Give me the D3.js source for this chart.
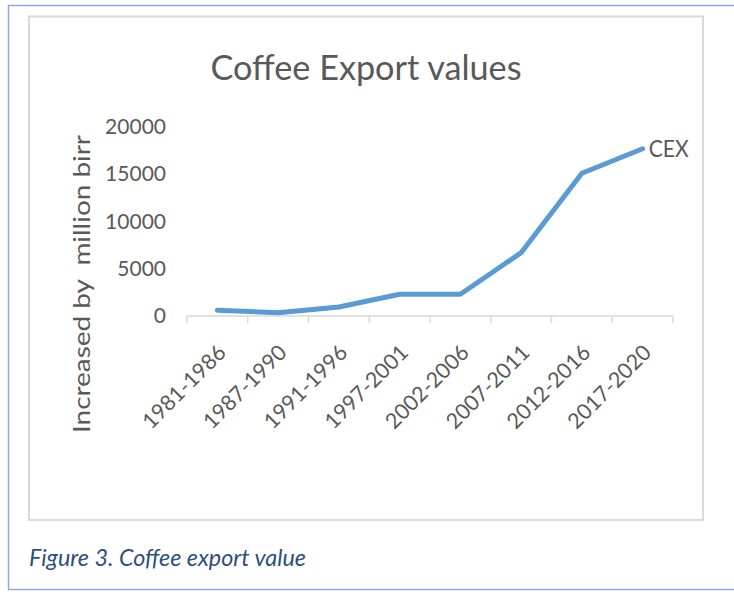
<!DOCTYPE html>
<html>
<head>
<meta charset="utf-8">
<script src="https://cdn.jsdelivr.net/npm/d3@7/dist/d3.min.js"></script>
<style>
  html, body { margin: 0; padding: 0; background: #fff; }
  svg { display: block; }
</style>
</head>
<body>
<svg id="chart" width="734" height="592"></svg>
<script>
// Coffee export value by period (million birr)
const periods = ["1981-1986", "1987-1990", "1991-1996", "1997-2001",
                 "2002-2006", "2007-2011", "2012-2016", "2017-2020"];
const exportValues = [600, 350, 950, 2300, 2300, 6700, 15100, 17700];
const yTicks = [0, 5000, 10000, 15000, 20000];
const seriesName = "CEX";

const svg = d3.select("#chart");
const font = "Lato, 'Open Sans', sans-serif";
const textGray = "#595959";

// outer page frame (top, left, bottom rules)
svg.append("path")
  .attr("d", "M734,5.5 H8.5 V589.5 H734")
  .attr("fill", "none")
  .attr("stroke", "#8eaadb")
  .attr("stroke-width", 1.5);

// chart area border
svg.append("rect")
  .attr("x", 29).attr("y", 16.5)
  .attr("width", 674).attr("height", 503.5)
  .attr("fill", "#fff")
  .attr("stroke", "#d9d9d9")
  .attr("stroke-width", 2);

// title
svg.append("text")
  .attr("x", 366).attr("y", 80)
  .attr("text-anchor", "middle")
  .attr("font-family", font)
  .attr("font-size", 34)
  .attr("fill", textGray)
  .attr("textLength", 311)
  .attr("lengthAdjust", "spacingAndGlyphs")
  .text("Coffee Export values");

// scales
const x = d3.scaleBand().domain(periods).range([187, 673]);
const y = d3.scaleLinear().domain([0, 20000]).range([316, 127]);
const cx = d => x(d) + x.bandwidth() / 2;

// y tick labels (no axis line, no gridlines)
const yAxis = d3.axisLeft(y).tickValues(yTicks).tickSize(0).tickPadding(0)
  .tickFormat(d3.format("d"));
const gy = svg.append("g").attr("transform", "translate(166,0)").call(yAxis);
gy.select(".domain").remove();
gy.selectAll("text")
  .attr("font-family", font)
  .attr("font-size", 21)
  .attr("fill", textGray);

// x axis line with boundary ticks
const gx = svg.append("g").attr("transform", "translate(0,316)");
gx.append("line")
  .attr("x1", 187).attr("x2", 673)
  .attr("stroke", "#d9d9d9").attr("stroke-width", 1.5);
const boundaries = periods.map(p => x(p)).concat([x.range()[1]]);
gx.selectAll("line.tick")
  .data(boundaries)
  .join("line")
  .attr("class", "tick")
  .attr("x1", d => d).attr("x2", d => d)
  .attr("y1", 0).attr("y2", 7)
  .attr("stroke", "#d9d9d9").attr("stroke-width", 1.5);

// rotated period labels
svg.append("g").selectAll("text")
  .data(periods)
  .join("text")
  .attr("transform", d => `translate(${cx(d) - 1},${343}) rotate(-45)`)
  .attr("text-anchor", "end")
  .attr("dy", "0.72em")
  .attr("font-family", font)
  .attr("font-size", 21.5)
  .attr("fill", textGray)
  .text(d => d);

// y axis title
svg.append("text")
  .attr("transform", "translate(90,284) rotate(-90)")
  .attr("text-anchor", "middle")
  .attr("font-family", font)
  .attr("font-size", 24)
  .attr("fill", textGray)
  .attr("textLength", 298)
  .attr("lengthAdjust", "spacingAndGlyphs")
  .style("white-space", "pre")
  .text("Increased by  million birr");

// series line
const line = d3.line()
  .x((d, i) => cx(periods[i]))
  .y(d => y(d));
svg.append("path")
  .datum(exportValues)
  .attr("d", line)
  .attr("fill", "none")
  .attr("stroke", "#5b9bd5")
  .attr("stroke-width", 5)
  .attr("stroke-linejoin", "round")
  .attr("stroke-linecap", "round");

// series label at the end of the line
const last = exportValues.length - 1;
svg.append("text")
  .attr("x", cx(periods[last]) + 6)
  .attr("y", y(exportValues[last]))
  .attr("dy", "0.35em")
  .attr("font-family", font)
  .attr("font-size", 24)
  .attr("fill", textGray)
  .attr("textLength", 40)
  .attr("lengthAdjust", "spacingAndGlyphs")
  .text(seriesName);

// figure caption
svg.append("text")
  .attr("x", 29).attr("y", 566)
  .attr("font-family", font)
  .attr("font-style", "italic")
  .attr("font-size", 23)
  .attr("fill", "#2e4f7f")
  .attr("textLength", 277)
  .attr("lengthAdjust", "spacingAndGlyphs")
  .text("Figure 3. Coffee export value");
</script>
</body>
</html>
